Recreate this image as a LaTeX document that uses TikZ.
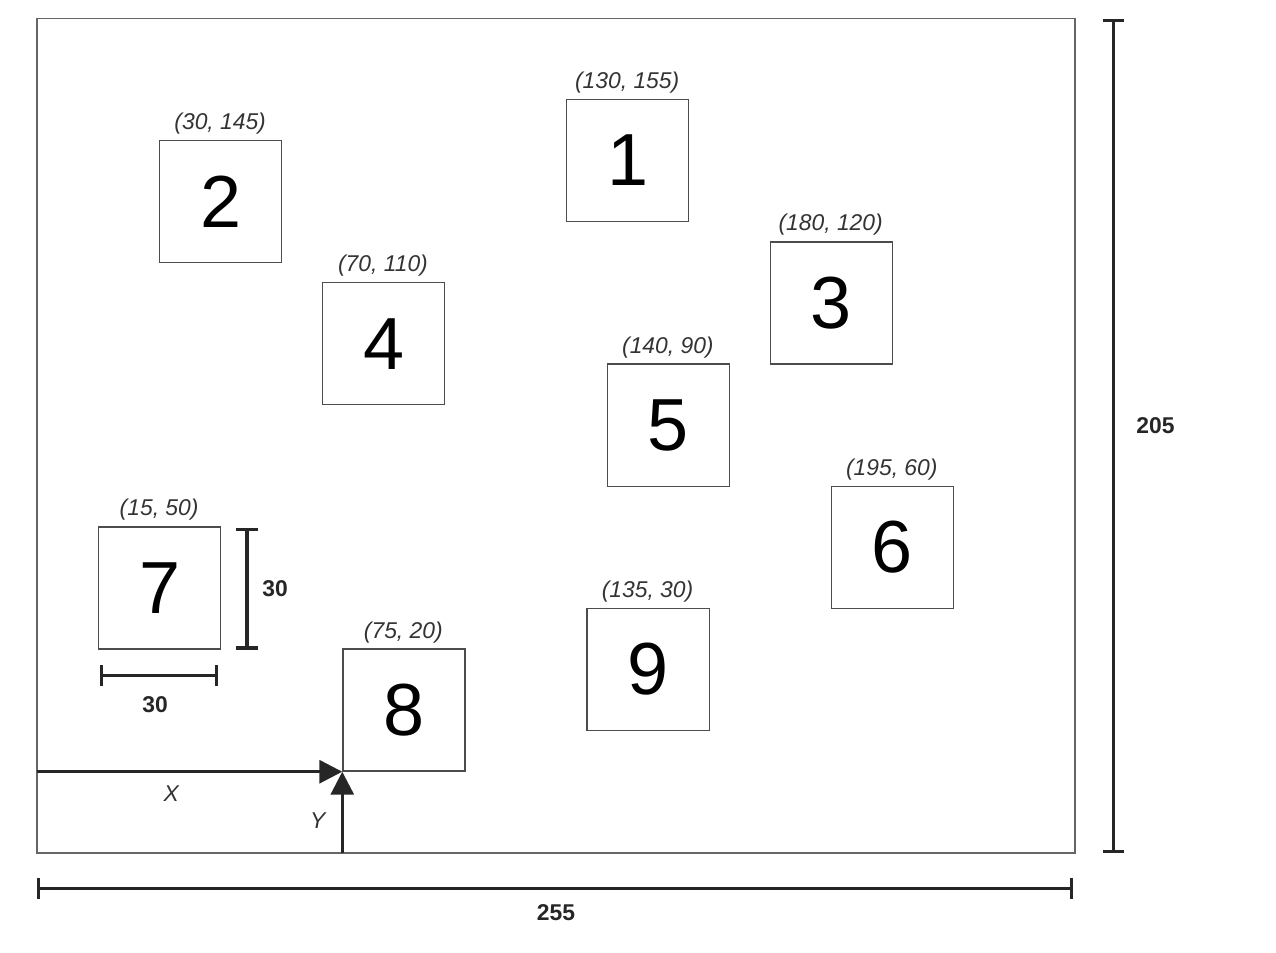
\documentclass[tikz,border=0pt]{standalone}
\usepackage{fontspec}
\setmainfont{Liberation Sans}
\usetikzlibrary{arrows.meta}
\begin{document}
\begin{tikzpicture}[x=0.0814cm,y=0.0814cm,
  box/.style={draw=black!70,line width=0.7pt,minimum size=30*0.0814cm,inner sep=0pt,font=\fontsize{42}{42}\selectfont,anchor=south west},
  lab/.style={font=\fontsize{13}{13}\selectfont\itshape,text=black!80},
  dim/.style={line width=1.8pt,black!85},
  dlab/.style={font=\fontsize{13}{13}\selectfont\bfseries,text=black!85}]
\useasboundingbox (-9.09,-24.3) rectangle (304.4,209.6);
\draw[black!60,line width=0.8pt] (0,0) rectangle (255,205);
\foreach \n/\a/\b in {1/130/155,2/30/145,3/180/120,4/70/110,5/140/90,6/195/60,7/15/50,8/75/20,9/135/30}{
  \node[box] (b\n) at (\a,\b) {\n};
  \node[lab] (l\n) at (\a+15,\b+34.3) {(\a, \b)};
}
\coordinate (xs) at (0,20); \coordinate (ys) at (75,0); \coordinate (o) at (75,20);
\draw[dim,-{Triangle[length=13pt,width=13pt]}] (xs) -- (o);
\draw[dim,-{Triangle[length=13pt,width=13pt]}] (ys) -- (o);
\node[lab] (lx) at (33,14.7) {X};
\node[lab] (ly) at (69,8) {Y};
\coordinate (r1) at (264.4,0); \coordinate (r2) at (264.4,205);
\draw[dim,{Bar[width=12pt]}-{Bar[width=12pt]}] (r1) -- (r2);
\node[dlab] (l205) at (274.8,105) {205};
\coordinate (h1) at (0,-8.6); \coordinate (h2) at (254.5,-8.6);
\draw[dim,{Bar[width=12pt]}-{Bar[width=12pt]}] (h1) -- (h2);
\node[dlab] (l255) at (127.5,-14.5) {255};
\coordinate (v1) at (51.6,50); \coordinate (v2) at (51.6,80);
\draw[dim,{Bar[width=12pt]}-{Bar[width=12pt]}] (v1) -- (v2);
\node[dlab] (l30a) at (58.5,65) {30};
\coordinate (w1) at (15.5,43.7); \coordinate (w2) at (44.5,43.7);
\draw[dim,{Bar[width=12pt]}-{Bar[width=12pt]}] (w1) -- (w2);
\node[dlab] (l30b) at (29,36.4) {30};
\end{tikzpicture}
\end{document}
